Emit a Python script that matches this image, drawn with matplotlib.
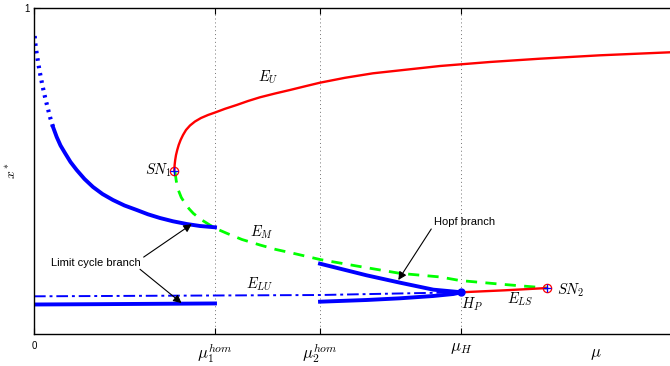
import numpy as np
import matplotlib
matplotlib.use('Agg')
import matplotlib.pyplot as plt

plt.rcParams['font.family'] = ['Liberation Sans', 'DejaVu Sans']
plt.rcParams['mathtext.fontset'] = 'cm'

# special parameter values (mu axis)
mu1_hom = 0.2846
mu2_hom = 0.4497
mu_H = 0.6714
mu_lab = 0.8836

# upper stable equilibrium E_U (from SN1 upward)
eu_x = [0.2206, 0.2211, 0.2220, 0.2233, 0.2252, 0.2275, 0.2305, 0.2343, 0.2390, 0.2453,
        0.2531, 0.2626, 0.2736, 0.2846, 0.3003, 0.3187, 0.3365, 0.3553, 0.3789, 0.4025,
        0.4261, 0.4497, 0.4890, 0.5330, 0.5833, 0.6384, 0.7170, 0.7956, 0.8899, 1.0]
eu_y = [0.5, 0.5184, 0.5337, 0.5491, 0.5644, 0.5798, 0.5951, 0.6104, 0.6258, 0.6396,
        0.6518, 0.6626, 0.6718, 0.6794, 0.6908, 0.7025, 0.7147, 0.7261, 0.7377, 0.7485,
        0.7598, 0.7709, 0.7859, 0.7997, 0.8104, 0.8221, 0.8344, 0.8445, 0.8549, 0.8641]

# middle saddle E_M (SN1 -> SN2)
em_x = [0.2217, 0.2237, 0.2269, 0.2316, 0.2374, 0.2437, 0.2505, 0.2626, 0.2767, 0.2893,
        0.303, 0.3270, 0.3553, 0.3805, 0.4077, 0.4497, 0.5074, 0.5755, 0.6384, 0.6698,
        0.7327, 0.8066]
em_y = [0.498, 0.4693, 0.4417, 0.4187, 0.401, 0.3844, 0.370, 0.3512, 0.334, 0.3206,
        0.309, 0.2899, 0.273, 0.2592, 0.2475, 0.2285, 0.2086, 0.186, 0.175, 0.164,
        0.153, 0.141]

# lower stable equilibrium E_LS (H_P -> SN2)
els_x = [0.672, 0.74, 0.8066]
els_y = [0.128, 0.134, 0.141]

# lower unstable equilibrium E_LU
elu_x = [0.0, 0.45, 0.672]
elu_y = [0.1156, 0.1196, 0.128]

# limit cycle branch (0 -> mu1_hom), max and min
lc_top_x = [0.0011, 0.0024, 0.0042, 0.0066, 0.0094, 0.0131, 0.0173, 0.0212, 0.0252, 0.0299,
            0.0357, 0.0417, 0.0487, 0.0574, 0.0671, 0.0794, 0.0928, 0.1077, 0.1242, 0.1423,
            0.1615, 0.1792, 0.1981, 0.2186, 0.2401, 0.2610, 0.2846]
lc_top_y = [0.9141, 0.8865, 0.8610, 0.8313, 0.8006, 0.7638, 0.7270, 0.6963, 0.6656, 0.6350,
            0.6043, 0.5782, 0.5552, 0.5276, 0.5031, 0.4755, 0.4509, 0.4294, 0.4110, 0.3942,
            0.3804, 0.3672, 0.3558, 0.3457, 0.3374, 0.3313, 0.3273]
lc_bot_x = [0.0, 0.1, 0.2846]
lc_bot_y = [0.0905, 0.0915, 0.0937]

# hopf branch (mu2_hom -> mu_H)
hb_top_x = [0.4497, 0.523, 0.5755, 0.6279, 0.672]
hb_top_y = [0.2157, 0.180, 0.1574, 0.136, 0.128]
hb_bot_x = [0.4497, 0.523, 0.5755, 0.6279, 0.6593, 0.672]
hb_bot_y = [0.0991, 0.1043, 0.1095, 0.1166, 0.1227, 0.128]

fig = plt.figure(figsize=(6.7, 3.66), dpi=100)
ax = fig.add_axes([34 / 670, 32 / 366, 1 - 34 / 670, 326 / 366])

for m in [mu1_hom, mu2_hom, mu_H]:
    ax.axvline(m, color='0.45', ls=(0, (1, 3)), lw=0.7, zorder=1)

ax.plot(eu_x, eu_y, color='r', lw=1.7)
ax.plot(em_x, em_y, color=(0, 1, 0), lw=2.0, dashes=(4, 3))
ax.plot(els_x, els_y, color='r', lw=1.7)
ax.plot(elu_x, elu_y, color='b', lw=1.4, dashes=(6, 2, 1.5, 2))
ax.plot(lc_top_x[:10], lc_top_y[:10], color='b', lw=3, ls=(0, (0.6, 1.2)))
ax.plot(lc_top_x[9:], lc_top_y[9:], color='b', lw=2.8)
ax.plot(lc_bot_x, lc_bot_y, color='b', lw=2.8)
ax.plot(hb_top_x, hb_top_y, color='b', lw=2.8)
ax.plot(hb_bot_x, hb_bot_y, color='b', lw=2.8)

# bifurcation points
ax.plot([eu_x[0], em_x[-1]], [eu_y[0], em_y[-1]], 'o', mfc='none', mec='r', ms=6, mew=0.9)
ax.plot([eu_x[0], em_x[-1]], [eu_y[0], em_y[-1]], '+', color='b', ms=6, mew=0.9)
ax.plot([0.672], [0.128], 'o', color='b', ms=5)

fs = 10.5
ax.text(0.3684, 0.789, '$E_U$', fontsize=fs, ha='center', va='center')
ax.text(0.358, 0.3108, '$E_M$', fontsize=fs, ha='center', va='center')
ax.text(0.3553, 0.1534, '$E_{LU}$', fontsize=fs, ha='center', va='center')
ax.text(0.764, 0.1064, '$E_{LS}$', fontsize=fs, ha='center', va='center')
ax.text(0.2165, 0.501, '$SN_1$', fontsize=fs, ha='right', va='center')
ax.text(0.8228, 0.135, '$SN_2$', fontsize=fs, ha='left', va='center')
ax.text(0.688, 0.090, '$H_P$', fontsize=fs, ha='center', va='center')

arr = dict(arrowstyle='-|>', color='k', lw=0.8, mutation_scale=12, shrinkA=0, shrinkB=0)
ax.annotate('Limit cycle branch', xy=(0.248, 0.337), xytext=(0.0975, 0.2178),
            fontsize=8, ha='center', va='center', arrowprops=dict(arr, relpos=(1, 0.9)))
ax.annotate('', xy=(0.232, 0.095), xytext=(0.1667, 0.1985), arrowprops=arr)
ax.annotate('Hopf branch', xy=(0.5728, 0.1656), xytext=(0.629, 0.3445),
            fontsize=8, ha='left', va='center', arrowprops=dict(arr, relpos=(0, 0.2)))

ax.set_xlim(0, 1)
ax.set_ylim(0, 1)
ax.set_xticks([0, mu1_hom, mu2_hom, mu_H])
ax.set_xticklabels(['0', r'$\mu_1^{hom}$', r'$\mu_2^{hom}$', r'$\mu_H$'])
ax.set_yticks([1])
ax.set_yticklabels(['1'])
ax.tick_params(direction='in', length=4, width=0.8, top=True, labelsize=7)
ax.tick_params(axis='x', pad=5)
ax.tick_params(axis='y', pad=3)
for lab in ax.get_xticklabels()[1:]:
    lab.set_fontsize(12)
ax.text(mu_lab, -0.04, r'$\mu$', fontsize=12, ha='center', va='top', clip_on=False)
ax.set_ylabel('$x^*$', fontsize=10, labelpad=4)
ax.spines['right'].set_visible(False)
for s in ['left', 'bottom', 'top']:
    ax.spines[s].set_linewidth(1.0)

fig.savefig('out.png', dpi=100)
